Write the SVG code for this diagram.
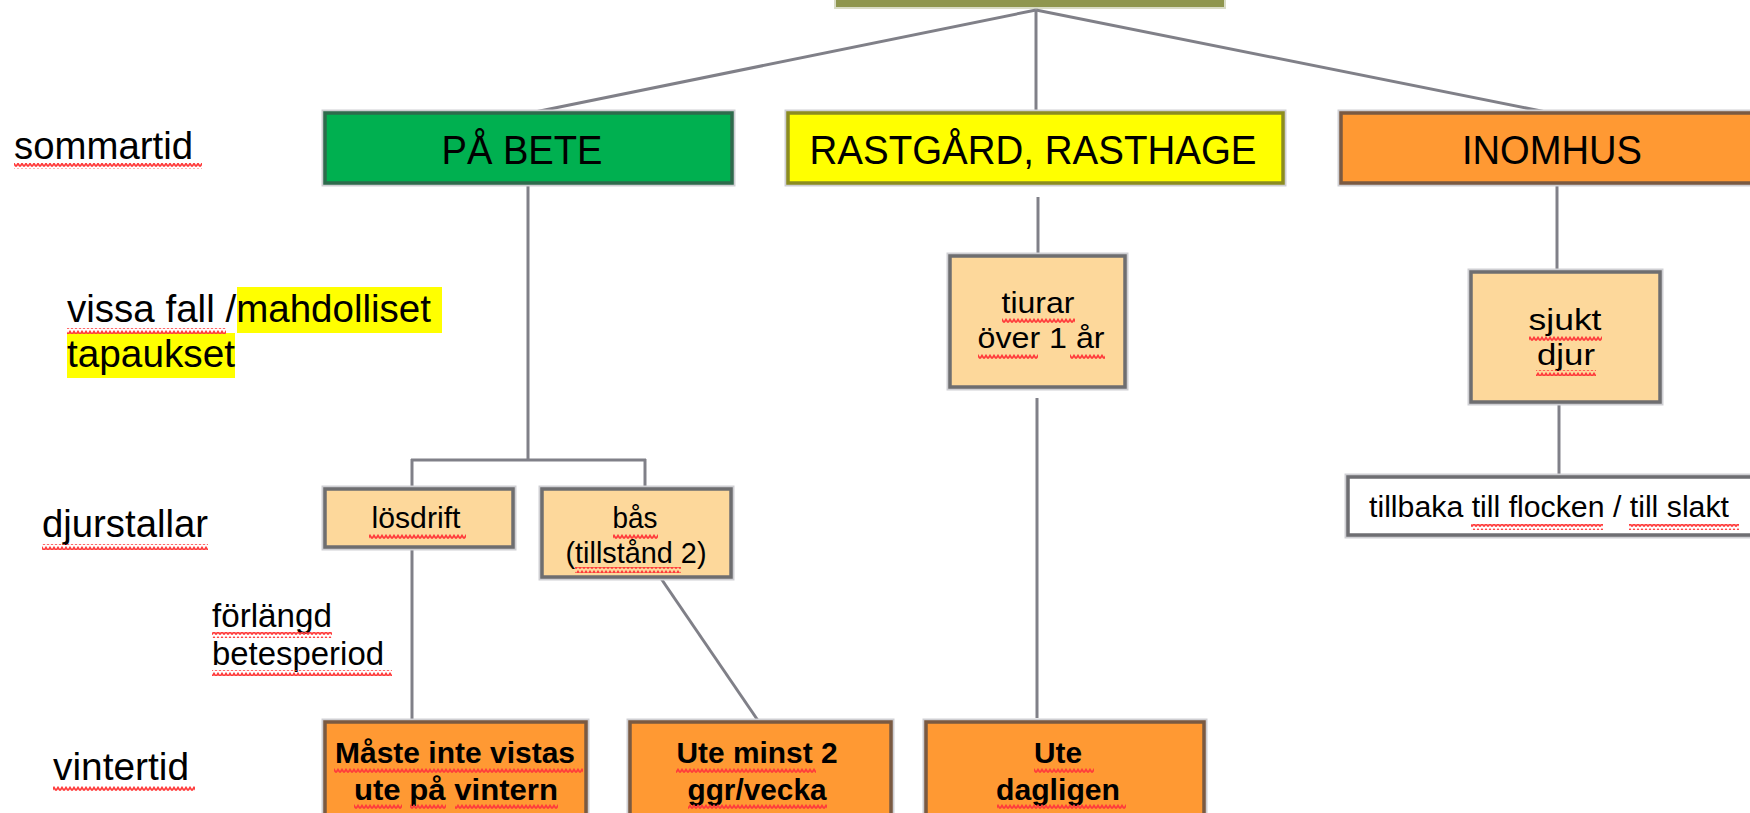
<svg xmlns="http://www.w3.org/2000/svg" width="1750" height="813" viewBox="0 0 1750 813">
<style>
  text { font-family: "Liberation Sans", Arial, sans-serif; fill: #000; }
  .lbl { font-size: 38px; }
  .lbl2 { font-size: 33px; }
  .hdr { font-size: 40px; text-anchor: middle; }
  .sm { font-size: 29px; text-anchor: middle; }
  .bd { font-size: 29px; font-weight: bold; text-anchor: middle; }
  .halo { fill: none; stroke: #cfcfd3; stroke-width: 7; }
  .box { stroke-width: 3.5; }
  .green { fill: #00B050; stroke: #2e6b4c; }
  .yellow { fill: #FFFF00; stroke: #8c8c20; }
  .orange { fill: #FF9933; stroke: #7a5a42; }
  .tan { fill: #FDD89B; stroke: #6e6e70; }
  .white { fill: #FFFFFF; stroke: #6e6e72; }
  .conn line { stroke: #808088; stroke-width: 3; fill: none; }
  .sq { fill: url(#squig); }
  .hl { fill: #FFFF00; }
</style>
<defs>
  <pattern id="squig" patternUnits="userSpaceOnUse" width="4" height="6">
    <path d="M0 4.5 L2 1.5 L4 4.5" fill="none" stroke="#ff3b3b" stroke-width="1.8"/>
  </pattern>
</defs>
<rect x="0" y="0" width="1750" height="813" fill="#FFFFFF"/>

<!-- top image placeholder -->
<g id="top">
  <rect x="834" y="-4" width="392" height="13" fill="#d9dcc6"/>
  <rect x="836" y="-4" width="388" height="11" fill="#8f964e"/>
</g>

<g id="connectors" class="conn">
  <line x1="1036" y1="10" x2="530" y2="113"/>
  <line x1="1036" y1="10" x2="1036" y2="113"/>
  <line x1="1036" y1="10" x2="1551" y2="113"/>
  <line x1="528" y1="183" x2="528" y2="460"/>
  <line x1="411" y1="460" x2="646" y2="460"/>
  <line x1="412" y1="459" x2="412" y2="489"/>
  <line x1="645" y1="459" x2="645" y2="489"/>
  <line x1="412" y1="547" x2="412" y2="722"/>
  <line x1="660" y1="577" x2="759" y2="722"/>
  <line x1="1038" y1="197" x2="1038" y2="256"/>
  <line x1="1037" y1="398" x2="1037" y2="718"/>
  <line x1="1557" y1="183" x2="1557" y2="272"/>
  <line x1="1559" y1="403" x2="1559" y2="477"/>
</g>

<!-- left labels -->
<g id="label-sommartid">
  <text class="lbl" x="14" y="159" textLength="179" lengthAdjust="spacingAndGlyphs">sommartid</text>
  <rect class="sq" x="14" y="163" width="188" height="6"/>
</g>
<g id="label-vissa">
  <rect class="hl" x="237" y="287" width="205" height="46"/>
  <rect class="hl" x="67" y="333" width="168" height="45"/>
  <text class="lbl" x="67" y="322" textLength="364" lengthAdjust="spacingAndGlyphs">vissa fall /mahdolliset</text>
  <text class="lbl" x="67" y="367" textLength="168" lengthAdjust="spacingAndGlyphs">tapaukset</text>
  <rect class="sq" x="67" y="328" width="159" height="6"/>
</g>
<g id="label-djurstallar">
  <text class="lbl" x="42" y="537" textLength="166" lengthAdjust="spacingAndGlyphs">djurstallar</text>
  <rect class="sq" x="42" y="544" width="166" height="6"/>
</g>
<g id="label-forlangd">
  <text class="lbl2" x="212" y="627" textLength="120" lengthAdjust="spacingAndGlyphs">förlängd</text>
  <text class="lbl2" x="212" y="665" textLength="172" lengthAdjust="spacingAndGlyphs">betesperiod</text>
  <rect class="sq" x="212" y="632" width="120" height="6"/>
  <rect class="sq" x="212" y="670" width="180" height="6"/>
</g>
<g id="label-vintertid">
  <text class="lbl" x="53" y="780" textLength="136" lengthAdjust="spacingAndGlyphs">vintertid</text>
  <rect class="sq" x="53" y="786" width="142" height="6"/>
</g>

<!-- nodes -->
<g id="node-pa-bete">
  <rect class="halo" x="325" y="113" width="407" height="70"/>
  <rect class="box green" x="325" y="113" width="407" height="70"/>
  <text class="hdr" x="522" y="164" textLength="161" lengthAdjust="spacingAndGlyphs">PÅ BETE</text>
</g>
<g id="node-rastgard">
  <rect class="halo" x="788" y="113" width="495" height="70"/>
  <rect class="box yellow" x="788" y="113" width="495" height="70"/>
  <text class="hdr" x="1033" y="164" textLength="447" lengthAdjust="spacingAndGlyphs">RASTGÅRD, RASTHAGE</text>
</g>
<g id="node-inomhus">
  <rect class="halo" x="1341" y="113" width="430" height="70"/>
  <rect class="box orange" x="1341" y="113" width="430" height="70"/>
  <text class="hdr" x="1552" y="164" textLength="180" lengthAdjust="spacingAndGlyphs">INOMHUS</text>
</g>
<g id="node-tiurar">
  <rect class="halo" x="950" y="256" width="175" height="131"/>
  <rect class="box tan" x="950" y="256" width="175" height="131"/>
  <text class="sm" x="1038" y="313" textLength="73" lengthAdjust="spacingAndGlyphs">tiurar</text>
  <text class="sm" x="1041" y="348" textLength="127" lengthAdjust="spacingAndGlyphs">över 1 år</text>
  <rect class="sq" x="1002" y="317" width="73" height="6"/>
  <rect class="sq" x="978" y="353" width="60" height="6"/>
  <rect class="sq" x="1070" y="353" width="35" height="6"/>
</g>
<g id="node-sjukt">
  <rect class="halo" x="1471" y="272" width="189" height="130"/>
  <rect class="box tan" x="1471" y="272" width="189" height="130"/>
  <text class="sm" x="1565" y="330" textLength="73" lengthAdjust="spacingAndGlyphs">sjukt</text>
  <text class="sm" x="1566" y="365" textLength="58" lengthAdjust="spacingAndGlyphs">djur</text>
  <rect class="sq" x="1529" y="336" width="73" height="6"/>
  <rect class="sq" x="1536" y="370" width="60" height="6"/>
</g>
<g id="node-tillbaka">
  <rect class="halo" x="1348" y="477" width="423" height="58"/>
  <rect class="box white" x="1348" y="477" width="423" height="58"/>
  <text style="font-size:30px" x="1369" y="517" textLength="360" lengthAdjust="spacingAndGlyphs">tillbaka till flocken / till slakt</text>
  <rect class="sq" x="1471" y="524" width="132" height="6"/>
  <rect class="sq" x="1629" y="524" width="110" height="6"/>
</g>
<g id="node-losdrift">
  <rect class="halo" x="325" y="489" width="188" height="58"/>
  <rect class="box tan" x="325" y="489" width="188" height="58"/>
  <text class="sm" x="416" y="528" textLength="89" lengthAdjust="spacingAndGlyphs">lösdrift</text>
  <rect class="sq" x="369" y="534" width="97" height="6"/>
</g>
<g id="node-bas">
  <rect class="halo" x="542" y="489" width="189" height="88"/>
  <rect class="box tan" x="542" y="489" width="189" height="88"/>
  <text class="sm" x="635" y="528" textLength="45" lengthAdjust="spacingAndGlyphs">bås</text>
  <text class="sm" x="636" y="563" textLength="141" lengthAdjust="spacingAndGlyphs">(tillstånd 2)</text>
  <rect class="sq" x="613" y="533" width="45" height="6"/>
  <rect class="sq" x="575" y="567" width="106" height="6"/>
</g>
<g id="node-maste">
  <rect class="halo" x="325" y="722" width="261" height="110"/>
  <rect class="box orange" x="325" y="722" width="261" height="110"/>
  <text class="bd" x="455" y="763" textLength="240" lengthAdjust="spacingAndGlyphs">Måste inte vistas</text>
  <text class="bd" x="456" y="800" textLength="204" lengthAdjust="spacingAndGlyphs">ute på vintern</text>
  <rect class="sq" x="334" y="768" width="249" height="6"/>
  <rect class="sq" x="354" y="804" width="48" height="6"/>
  <rect class="sq" x="410" y="804" width="36" height="6"/>
  <rect class="sq" x="455" y="804" width="103" height="6"/>
</g>
<g id="node-ute-minst">
  <rect class="halo" x="630" y="722" width="261" height="110"/>
  <rect class="box orange" x="630" y="722" width="261" height="110"/>
  <text class="bd" x="757" y="763" textLength="161" lengthAdjust="spacingAndGlyphs">Ute minst 2</text>
  <text class="bd" x="757" y="800" textLength="139" lengthAdjust="spacingAndGlyphs">ggr/vecka</text>
  <rect class="sq" x="676" y="768" width="140" height="6"/>
  <rect class="sq" x="688" y="804" width="139" height="6"/>
</g>
<g id="node-ute-dagligen">
  <rect class="halo" x="926" y="722" width="278" height="110"/>
  <rect class="box orange" x="926" y="722" width="278" height="110"/>
  <text class="bd" x="1058" y="763" textLength="48" lengthAdjust="spacingAndGlyphs">Ute</text>
  <text class="bd" x="1058" y="800" textLength="124" lengthAdjust="spacingAndGlyphs">dagligen</text>
  <rect class="sq" x="1034" y="768" width="60" height="6"/>
  <rect class="sq" x="997" y="804" width="129" height="6"/>
</g>
</svg>
